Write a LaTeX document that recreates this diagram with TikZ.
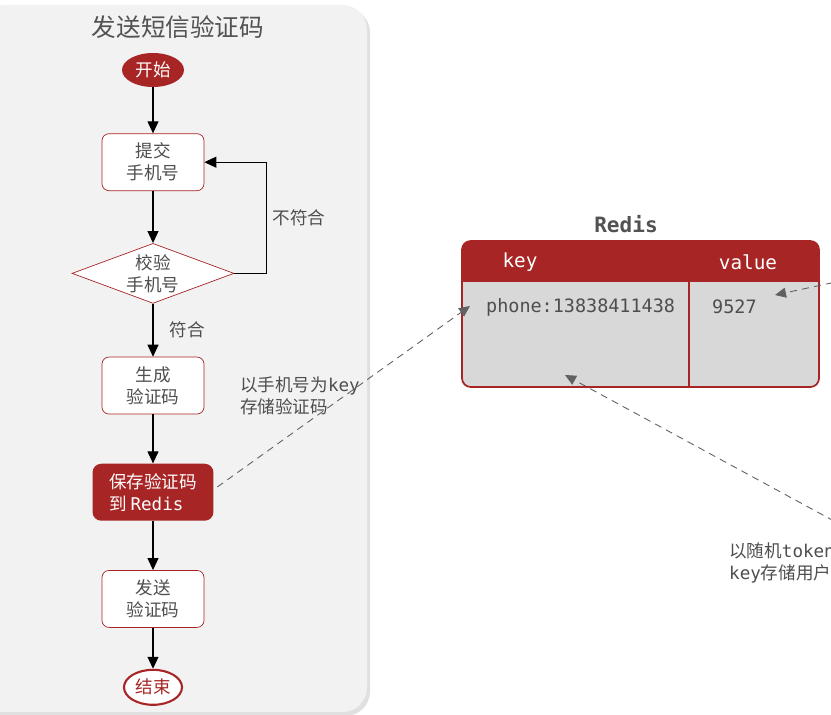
\documentclass[tikz,border=0pt]{standalone}
\usepackage{fontspec}
\setmainfont{Noto Sans CJK SC}
\setmonofont{DejaVu Sans Mono}
\usepackage{tikz}
\usetikzlibrary{arrows.meta, positioning, shapes.geometric}
\definecolor{redisRed}{RGB}{168,37,37}
\definecolor{panelGray}{RGB}{242,242,242}
\definecolor{cellGray}{RGB}{216,216,216}
\definecolor{textGray}{RGB}{78,78,78}

\begin{document}
\begin{tikzpicture}[
    x=0.02cm, y=-0.02cm,
    font=\fontsize{10}{12.5}\selectfont,
    text=textGray,
    box/.style={rectangle, rounded corners=4pt, draw=redisRed, fill=white, minimum width=2.04cm, minimum height=1.14cm, align=center, inner sep=2pt},
    savebox/.style={rectangle, rounded corners=5pt, fill=redisRed, text=white, minimum width=2.42cm, minimum height=1.14cm, align=left, inner sep=2pt},
    decision/.style={diamond, draw=redisRed, fill=white, aspect=2.7, inner sep=0pt, minimum width=3.24cm, minimum height=1.2cm, align=center},
    startnode/.style={ellipse, fill=redisRed, text=white, minimum width=1.24cm, minimum height=0.68cm, inner sep=0pt},
    endnode/.style={ellipse, draw=redisRed, line width=1.2pt, fill=white, text=redisRed, minimum width=1.16cm, minimum height=0.7cm, inner sep=0pt},
    headtext/.style={text=white, font=\ttfamily\fontsize{11}{13}\selectfont},
    celltext/.style={font=\ttfamily\fontsize{10.5}{12.5}\selectfont},
    arrow/.style={-{Triangle[length=2.4mm, width=2.2mm]}, draw=black, line width=0.6pt},
    link/.style={-{Triangle[length=2.2mm, width=2mm]}, color=black!62, dash pattern=on 4pt off 3pt, line width=0.5pt}
  ]
    \useasboundingbox (0,0) rectangle (831,714);
    \clip (0,0) rectangle (831,714);
    \fill[white] (0,0) rectangle (831,714);

    % left panel
    \fill[black!12, rounded corners=14pt] (-20,8) rectangle (370,716);
    \fill[panelGray, rounded corners=14pt] (-20,5) rectangle (367,712);
    \node[font=\fontsize{14}{16}\selectfont, text=black!68] (title) at (178,27) {发送短信验证码};

    \node[startnode] (start) at (153,70) {开始};
    \node[box, below=0.92cm of start] (submit) {提交\\手机号};
    \node[decision, below=1.04cm of submit] (check) {校验\\手机号};
    \node[box, below=1.06cm of check] (gen) {生成\\验证码};
    \node[savebox, below=0.98cm of gen] (save) {保存验证码\\到 \texttt{Redis}};
    \node[box, below=0.98cm of save] (send) {发送\\验证码};
    \node[endnode, below=0.82cm of send] (stop) {结束};

    \draw[arrow] (start) -- (submit);
    \draw[arrow] (submit) -- (check);
    \draw[arrow] (check.east) -- ++(32,0) |- node[pos=0.25, right]{不符合} (submit.east);
    \draw[arrow] (check) -- node[right=6pt]{符合} (gen);
    \draw[arrow] (gen) -- (save);
    \draw[arrow] (save) -- (send);
    \draw[arrow] (send) -- (stop);

    % redis table
    \node[font=\ttfamily\bfseries\fontsize{12}{14}\selectfont, text=black!68] (redis) at (626,224) {Redis};
    \begin{scope}
      \clip[rounded corners=5pt] (462,241) rectangle (819,387);
      \fill[cellGray] (462,241) rectangle (819,387);
      \fill[redisRed] (462,241) rectangle (819,282);
    \end{scope}
    \draw[redisRed, line width=1pt, rounded corners=5pt] (462,241) rectangle (819,387);
    \draw[redisRed, line width=0.6pt] (689,282) -- (689,387);
    \node[headtext] (keyhead) at (520,262) {key};
    \node[headtext] (valhead) at (748,262) {value};
    \node[celltext, anchor=west] (keycell) at (480,307) {phone:13838411438};
    \node[celltext, anchor=west] (valcell) at (706,307) {9527};

    % dashed links
    \coordinate (keyin) at (470,306);
    \coordinate (valin) at (775,295);
    \coordinate (tokenin) at (565,375);
    \coordinate (valfrom) at (845,280);
    \coordinate (tokenfrom) at (845,527);
    \draw[link] ([xshift=2pt, yshift=3pt]save.east) -- (keyin);
    \draw[link] (valfrom) -- (valin);
    \draw[link] (tokenfrom) -- (tokenin);

    \node[anchor=west, align=left] (keylabel) at (234,396) {以手机号为\texttt{key}\\存储验证码};
    \node[anchor=west, align=left] (tokenlabel) at (723,563) {以随机\texttt{token}\\\texttt{key}存储用户};
  \end{tikzpicture}
\end{document}
